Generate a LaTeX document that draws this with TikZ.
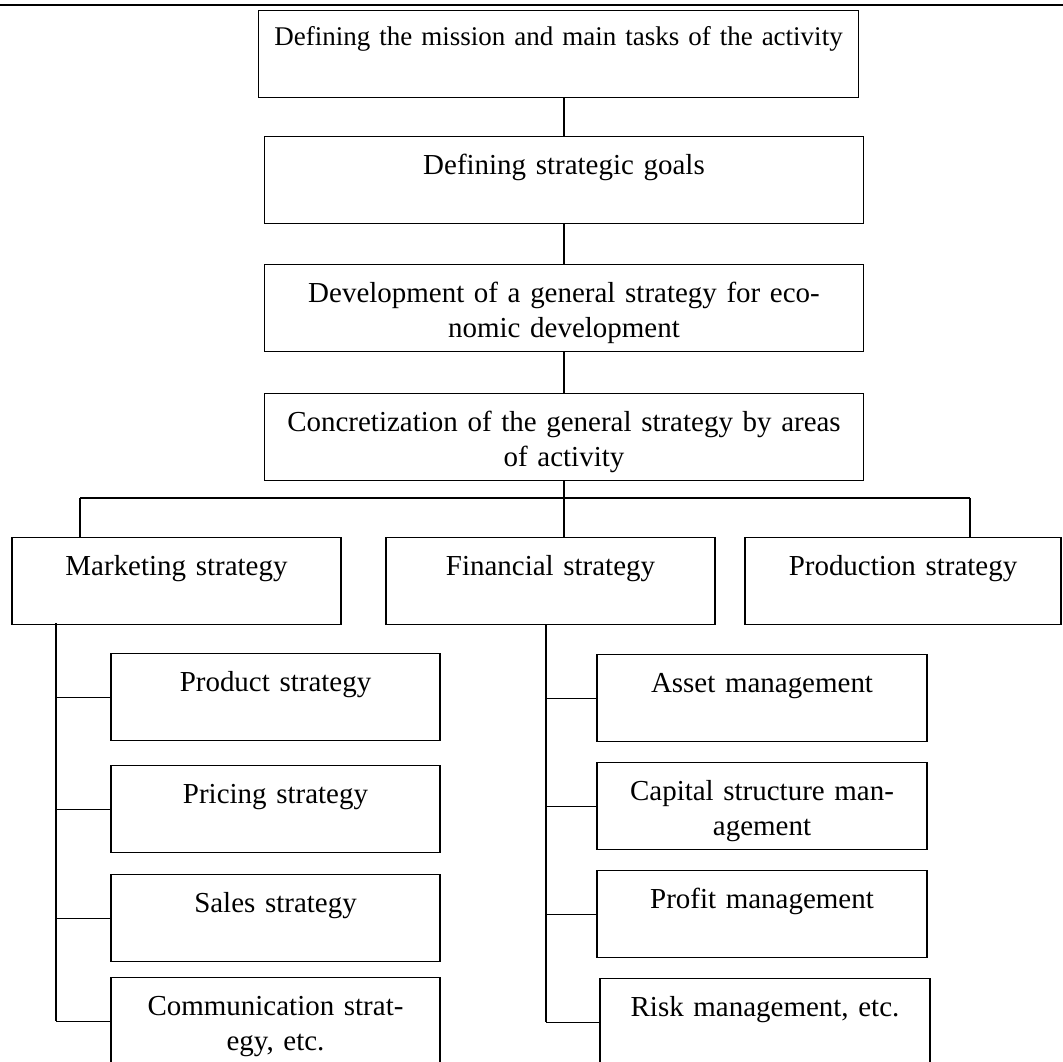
\documentclass[tikz,border=0pt]{standalone}
\usepackage{fontspec}
\setmainfont{Liberation Serif}

\tikzset{
  box/.style={draw, line width=0.8pt, inner sep=0pt, anchor=north, align=center,
    text width=#1, text height=0.95cm, text depth=1.225cm,
    font=\fontsize{20.6}{24.9}\selectfont},
  link/.style={line width=0.8pt}
}

\begin{document}
\begin{tikzpicture}[x=0.025cm, y=-0.025cm]
\useasboundingbox (0,0) rectangle (1063,1061);

%rule at the head of the page
\draw [line width=2.1pt] (0,5) -- (1063,5);

%the main chain
\node [box=14.975cm, text height=0.875cm, text depth=1.3cm,
  font=\fontsize{19.2}{23}\selectfont] (mission) at (558.5,10)
  {Defining the mission and main tasks of the activity};
\node [box=14.95cm] (goals) at (564,136) {Defining strategic goals};
\node [box=14.95cm] (general) at (564,264)
  {Development of a general strategy for eco-\\nomic development};
\node [box=14.95cm] (concr) at (564,393)
  {Concretization of the general strategy by areas\\of activity};

\draw [link] (goals.north |- mission.south) -- (goals.north);
\draw [link] (goals.south) -- (general.north);
\draw [link] (general.south) -- (concr.north);

%areas of activity
\node [box=8.225cm] (marketing) at (176.5,537) {Marketing strategy};
\node [box=8.225cm] (financial) at (550.5,537) {Financial strategy};
\node [box=7.9cm] (production) at (903,537) {Production strategy};

\coordinate (busL) at (80,498);
\coordinate (busR) at (970,498);
\draw [link] (busL) -- (busR);
\draw [link] (concr.south) -- (concr.south |- financial.north);
\draw [link] (busL) -- (busL |- marketing.north);
\draw [link] (busR) -- (busR |- production.north);

%marketing branch
\node [box=8.225cm] (product) at (275.5,653) {Product strategy};
\node [box=8.225cm] (pricing) at (275.5,765) {Pricing strategy};
\node [box=8.225cm] (sales) at (275.5,874) {Sales strategy};
\node [box=8.225cm] (comm) at (275.5,977) {Communication strat-\\egy, etc.};

\coordinate (mspine) at (56,623);
\draw [link] (mspine) -- (mspine |- comm.west);
\foreach \b in {product,pricing,sales,comm} \draw [link] (mspine |- \b.west) -- (\b.west);

%financial branch
\node [box=8.25cm] (asset) at (762,654) {Asset management};
\node [box=8.25cm] (capital) at (762,762) {Capital structure man-\\agement};
\node [box=8.25cm] (profit) at (762,870) {Profit management};
\node [box=8.25cm] (risk) at (765,978) {Risk management, etc.};

\coordinate (fspine) at (546,624);
\draw [link] (fspine) -- (fspine |- risk.west);
\foreach \b in {asset,capital,profit,risk} \draw [link] (fspine |- \b.west) -- (\b.west);

\end{tikzpicture}
\end{document}
